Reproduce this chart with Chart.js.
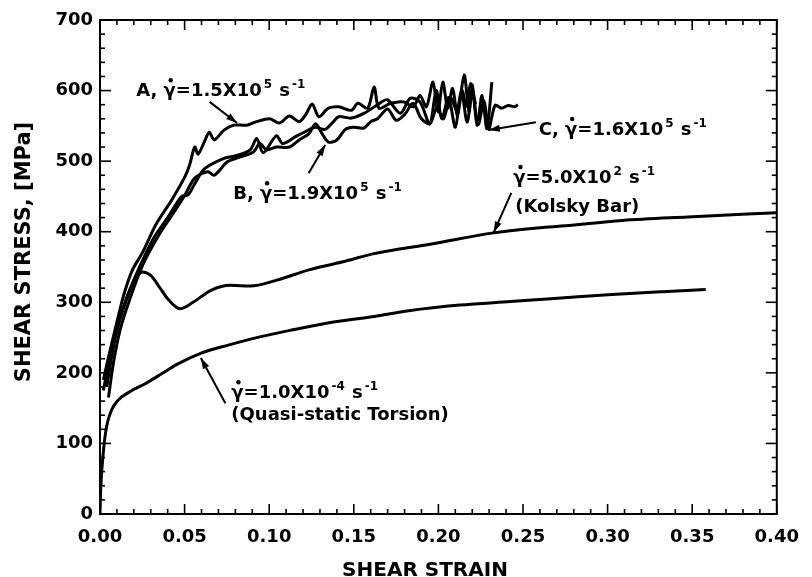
<!DOCTYPE html>
<html>
<head>
<meta charset="utf-8">
<script src="https://cdn.jsdelivr.net/npm/chart.js@4.4.1/dist/chart.umd.min.js"></script>
<style>
html, body { margin: 0; padding: 0; background: #fff; }
</style>
</head>
<body>
<canvas id="c" width="812" height="577"></canvas>
<script>
// curve A, gamma-dot = 1.5e5
const strainA = [0.002,0.005,0.009,0.014,0.019,0.025,0.033,0.0424,0.0502,0.053,0.056,0.058,0.0618,0.0646,0.0675,0.0733,0.0791,0.0868,0.0926,0.1003,0.1061,0.1119,0.1177,0.1216,0.1254,0.1293,0.135,0.141,0.1486,0.1524,0.1582,0.162,0.1649,0.1717,0.1794,0.1852,0.1891,0.1929,0.1968,0.1997,0.2026,0.2055,0.2084,0.2113,0.2152,0.2181,0.22,0.2229,0.2258,0.2287,0.2316]
const stressA = [190,222,262,310,345,370,410,445,478,495,520,510,528,541,530,544,551,551,556,560,554,564,556,566,581,563,575,577,572,582,575,605,575,582,584,577,593,577,612,570,612,575,603,565,622,570,608,551,593,546,612]
// curve B, 1.9e5
const strainB = [0.005,0.008,0.012,0.0174,0.0251,0.0347,0.0444,0.0502,0.056,0.0637,0.0675,0.0753,0.083,0.0907,0.0945,0.0984,0.1042,0.1119,0.1177,0.1235,0.1274,0.131,0.135,0.14,0.145,0.15,0.156,0.16,0.164,0.17,0.175,0.18,0.185,0.19,0.195,0.199,0.203,0.207,0.211,0.214,0.2165,0.219,0.222]
const stressB = [165,215,262,303,352,395,430,452,476,485,480,499,506,513,525,516,520,520,530,539,553,540,527,530,545,548,547,556,560,574,558,566,582,560,553,575,560,590,572,600,578,610,580]
// curve C, 1.6e5
const strainC = [0.004,0.007,0.011,0.016,0.023,0.032,0.04,0.0482,0.052,0.056,0.0617,0.0733,0.081,0.0888,0.0926,0.0965,0.1042,0.108,0.1158,0.1216,0.127,0.133,0.138,0.141,0.1486,0.1563,0.164,0.1698,0.1775,0.1833,0.1891,0.1949,0.1987,0.202,0.206,0.21,0.2135,0.217,0.22,0.2235,0.227,0.2297,0.2335,0.2374,0.2413,0.2451,0.247]
const stressC = [180,225,270,308,348,392,420,450,452,468,489,504,508,516,532,512,536,525,535,542,548,545,556,563,561,568,580,587,568,589,584,553,600,560,590,548,600,555,598,552,585,545,579,575,579,577,580]
// kolsky bar, 5.0e2
const strainK = [0.002,0.005,0.0077,0.0135,0.0193,0.025,0.03,0.035,0.04,0.0473,0.055,0.0656,0.0772,0.0888,0.104,0.1235,0.143,0.162,0.1968,0.2315,0.2566,0.2725,0.3087,0.3475,0.40]
const stressK = [175,212,240,289,325,343,338,322,305,291,300,317,324,323,331,346,357,369,383,398,405,408,416,421,427]
// quasi-static torsion, 1.0e-4
const strainQ = [0,0.0004,0.0019,0.0039,0.0068,0.0106,0.0174,0.027,0.0367,0.0463,0.0598,0.0753,0.0945,0.1139,0.1331,0.162,0.1825,0.2125,0.2425,0.2725,0.3025,0.3325,0.358]
const stressQ = [0,34,86,124,147,161,173,185,199,213,228,239,251,261,270,280,288,296,301,306,311,315,318]

const xTicks = ['0.00','0.05','0.10','0.15','0.20','0.25','0.30','0.35','0.40']
const yTicks = ['0','100','200','300','400','500','600','700']

const FONT = "'DejaVu Sans'"

// labels: text parts, anchor in data units (strain, stress)
const notes = [
  {at: [0.0214, 592], parts: [['A, '], ['γ', 'dot'], ['=1.5X10'], ['5', 'sup'], [' s'], ['-1', 'sup']],
   arrow: [[0.0648, 584], [0.081, 554]]},
  {at: [0.0787, 446], parts: [['B, '], ['γ', 'dot'], ['=1.9X10'], ['5', 'sup'], [' s'], ['-1', 'sup']],
   arrow: [[0.1233, 483], [0.1331, 523]]},
  {at: [0.2593, 537], parts: [['C, '], ['γ', 'dot'], ['=1.6X10'], ['5', 'sup'], [' s'], ['-1', 'sup']],
   arrow: [[0.2576, 555], [0.2298, 544]]},
  {at: [0.2443, 469], parts: [['γ', 'dot'], ['=5.0X10'], ['2', 'sup'], [' s'], ['-1', 'sup']],
   arrow: [[0.2431, 455], [0.2327, 399]]},
  {at: [0.2454, 428], parts: [['(Kolsky Bar)']]},
  {at: [0.0776, 164], parts: [['γ', 'dot'], ['=1.0X10'], ['-4', 'sup'], [' s'], ['-1', 'sup']],
   arrow: [[0.0741, 157], [0.0596, 221]]},
  {at: [0.0776, 133], parts: [['(Quasi-static Torsion)']]}
]

function pts(xs, ys) {
  return xs.map((v, i) => ({x: v, y: ys[i]}))
}

function curve(xs, ys, smooth) {
  return {
    data: pts(xs, ys),
    borderColor: '#000',
    borderWidth: 3,
    pointRadius: 0,
    fill: false,
    tension: 0.3,
    cubicInterpolationMode: smooth ? 'monotone' : 'default'
  }
}

function line(ctx, x1, y1, x2, y2) {
  ctx.beginPath()
  ctx.moveTo(x1, y1)
  ctx.lineTo(x2, y2)
  ctx.stroke()
}

function drawParts(ctx, parts, x, y) {
  ctx.textAlign = 'left'
  ctx.textBaseline = 'alphabetic'
  for (const [t, kind] of parts) {
    if (kind === 'sup') {
      ctx.font = 'bold 12px ' + FONT
      ctx.fillText(t, x + 2, y - 8)
      x += ctx.measureText(t).width + 3
    } else {
      ctx.font = 'bold 18px ' + FONT
      ctx.fillText(t, x, y)
      const w = ctx.measureText(t).width
      if (kind === 'dot') {
        ctx.beginPath()
        ctx.arc(x + w / 2 + 1, y - 16, 2.2, 0, Math.PI * 2)
        ctx.fill()
      }
      x += w
    }
  }
}

const decor = {
  id: 'decor',
  afterDraw(chart) {
    const {ctx, chartArea: a, scales: {x, y}} = chart
    ctx.save()
    ctx.strokeStyle = '#000'
    ctx.fillStyle = '#000'
    ctx.lineWidth = 2
    ctx.strokeRect(a.left, a.top, a.right - a.left, a.bottom - a.top)
    ctx.lineWidth = 1.6
    for (let i = 0; i <= 40; i++) {
      const px = x.getPixelForValue(i / 100)
      const len = i % 5 === 0 ? 10 : 5
      line(ctx, px, a.bottom, px, a.bottom - len)
      line(ctx, px, a.top, px, a.top + len)
    }
    for (let i = 0; i <= 35; i++) {
      const py = y.getPixelForValue(i * 20)
      const len = i % 5 === 0 ? 11 : 5
      line(ctx, a.left, py, a.left + len, py)
      line(ctx, a.right, py, a.right - len, py)
    }

    // notes and arrows
    for (const n of notes) {
      drawParts(ctx, n.parts, x.getPixelForValue(n.at[0]), y.getPixelForValue(n.at[1]))
      if (n.arrow) {
        const x1 = x.getPixelForValue(n.arrow[0][0]), y1 = y.getPixelForValue(n.arrow[0][1])
        const x2 = x.getPixelForValue(n.arrow[1][0]), y2 = y.getPixelForValue(n.arrow[1][1])
        ctx.lineWidth = 2
        line(ctx, x1, y1, x2, y2)
        const ang = Math.atan2(y2 - y1, x2 - x1)
        ctx.beginPath()
        ctx.moveTo(x2, y2)
        ctx.lineTo(x2 - 11 * Math.cos(ang) + 3.5 * Math.sin(ang), y2 - 11 * Math.sin(ang) - 3.5 * Math.cos(ang))
        ctx.lineTo(x2 - 11 * Math.cos(ang) - 3.5 * Math.sin(ang), y2 - 11 * Math.sin(ang) + 3.5 * Math.cos(ang))
        ctx.closePath()
        ctx.fill()
      }
    }

    // axis titles
    ctx.font = 'bold 20px ' + FONT
    ctx.textAlign = 'center'
    ctx.textBaseline = 'alphabetic'
    ctx.fillText('SHEAR STRAIN', 425, 576)
    ctx.translate(30, 252)
    ctx.rotate(-Math.PI / 2)
    ctx.font = 'bold 21px ' + FONT
    ctx.fillText('SHEAR STRESS, [MPa]', 0, 0)
    ctx.restore()
  }
}

new Chart(document.getElementById('c'), {
  type: 'line',
  data: {
    datasets: [
      curve(strainA, stressA),
      curve(strainB, stressB),
      curve(strainC, stressC),
      curve(strainK, stressK, true),
      curve(strainQ, stressQ, true)
    ]
  },
  options: {
    responsive: false,
    animation: false,
    devicePixelRatio: 1,
    layout: {padding: {left: 0, top: 20, right: 21, bottom: 0}},
    plugins: {legend: {display: false}, tooltip: {enabled: false}},
    scales: {
      x: {
        type: 'linear', min: 0, max: 0.4,
        afterFit: s => { s.height = 63 },
        grid: {display: false, drawTicks: false},
        border: {display: false},
        ticks: {
          stepSize: 0.05, padding: 13, color: '#000', maxRotation: 0,
          font: {family: FONT, size: 18, weight: 'bold'},
          callback: (v) => xTicks[Math.round(v / 0.05)]
        }
      },
      y: {
        type: 'linear', min: 0, max: 700,
        afterFit: s => { s.width = 100 },
        grid: {display: false, drawTicks: false},
        border: {display: false},
        ticks: {
          stepSize: 100, padding: 7, color: '#000',
          font: {family: FONT, size: 18, weight: 'bold'},
          callback: (v) => yTicks[Math.round(v / 100)]
        }
      }
    }
  },
  plugins: [decor]
})
</script>
</body>
</html>
